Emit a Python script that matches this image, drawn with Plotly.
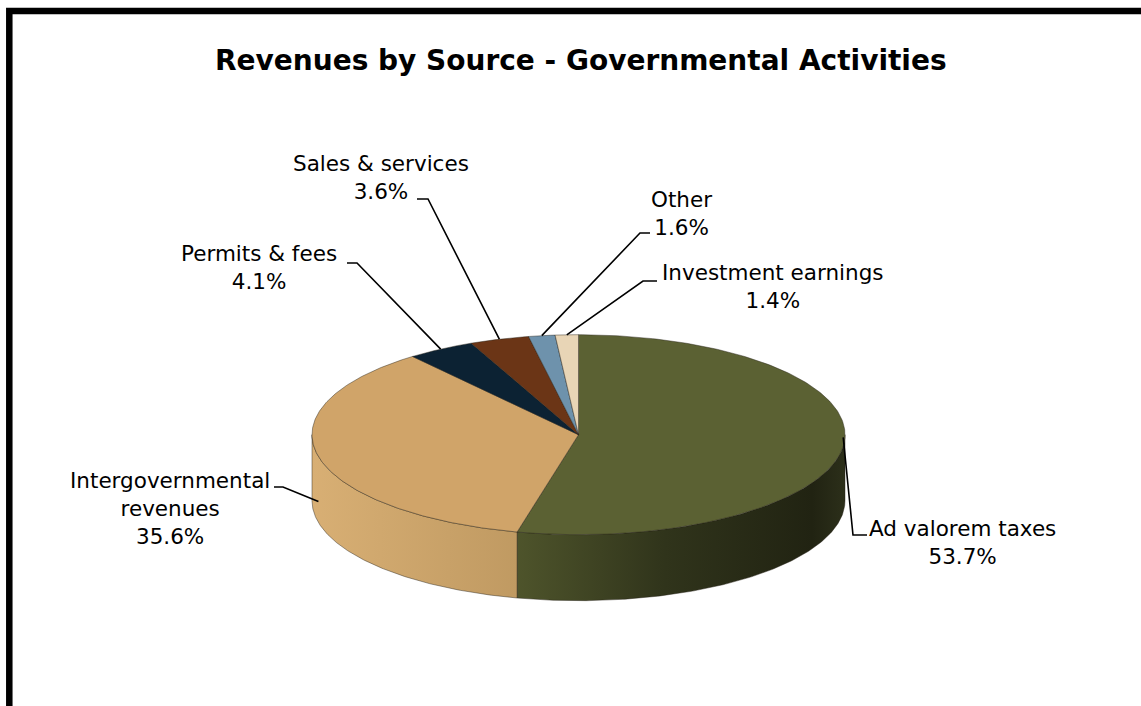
import numpy as np
import plotly.graph_objects as go

# ---- data -------------------------------------------------------------
categories = ["Ad valorem taxes", "Intergovernmental revenues", "Permits & fees",
              "Sales & services", "Other", "Investment earnings"]
label_text = ["Ad valorem taxes", "Intergovernmental<br>revenues", "Permits &amp; fees",
              "Sales &amp; services", "Other", "Investment earnings"]
shares = [53.7, 35.6, 4.1, 3.6, 1.6, 1.4]

# ---- style ------------------------------------------------------------
top_colors = ["#5b6133", "#d0a469", "#0c2233", "#6b3516", "#6e92ac", "#e8d5b6"]
side_scales = [
    [[0, "#4e542b"], [0.45, "#30341b"], [0.9, "#212312"], [1, "#2c2f1a"]],
    [[0, "#d8af74"], [1, "#c09a62"]],
    [[0, "#081a28"], [1, "#081a28"]],
    [[0, "#56290f"], [1, "#56290f"]],
    [[0, "#557a94"], [1, "#557a94"]],
    [[0, "#d6c2a2"], [1, "#d6c2a2"]],
]
FONT = "DejaVu Sans"
W, H = 1141, 706

# pie geometry in pixel space (3-D disc seen from above)
CX, CY, RX, RY, DEPTH = 578.5, 434.7, 266.5, 100.0, 66.0

# label placement: text centre, offset of the leader anchor below the rim,
# and the elbow of the leader line
label_layout = {
    "Ad valorem taxes": dict(xy=(962, 542), drop=-9, elbow=[(853, 535), (867, 535)]),
    "Intergovernmental revenues": dict(xy=(170, 508), drop=45, elbow=[(283, 487), (274, 487)]),
    "Permits & fees": dict(xy=(259, 267), drop=0, elbow=[(357, 263), (347, 263)]),
    "Sales & services": dict(xy=(381, 177), drop=0, elbow=[(428, 199), (417, 199)]),
    "Other": dict(xy=(681, 213), drop=0, elbow=[(640, 233), (650, 233)]),
    "Investment earnings": dict(xy=(773, 286), drop=0, elbow=[(643, 281), (657, 281)]),
}


def rim(theta_deg, drop=0.0):
    """Point on the top ellipse, angle measured clockwise from 12 o'clock."""
    t = np.radians(theta_deg)
    return CX + RX * np.sin(t), CY - RY * np.cos(t) + drop


total = float(sum(shares))
bounds = np.concatenate([[0.0], np.cumsum(shares)]) / total * 360.0

fig = go.Figure()

# side walls (only the front half of the disc is visible)
for i, cat in enumerate(categories):
    a, b = max(bounds[i], 90.0), min(bounds[i + 1], 270.0)
    if b <= a:
        continue
    th = np.linspace(a, b, 160)
    xs, ys = rim(th)
    xp = np.concatenate([xs, xs[::-1], xs[:1]])
    yp = np.concatenate([ys, ys[::-1] + DEPTH, ys[:1]])
    fig.add_trace(go.Scatter(
        x=xp, y=yp, mode="lines", fill="toself",
        fillgradient=dict(type="horizontal", colorscale=side_scales[i]),
        line=dict(color="rgba(35,30,20,0.55)", width=0.8),
        hoverinfo="skip", showlegend=False))

# top faces
for i, cat in enumerate(categories):
    th = np.linspace(bounds[i], bounds[i + 1], 240)
    xs, ys = rim(th)
    xp = np.concatenate([[CX], xs, [CX]])
    yp = np.concatenate([[CY], ys, [CY]])
    fig.add_trace(go.Scatter(
        x=xp, y=yp, mode="lines", fill="toself", fillcolor=top_colors[i],
        line=dict(color="rgba(35,30,20,0.55)", width=0.8),
        name=cat, hoverinfo="name", showlegend=False))

# leader lines and labels
for i, cat in enumerate(categories):
    spec = label_layout[cat]
    mid = (bounds[i] + bounds[i + 1]) / 2.0
    ax, ay = rim(mid, spec["drop"])
    pts = [(ax, ay)] + spec["elbow"]
    fig.add_trace(go.Scatter(
        x=[p[0] for p in pts], y=[p[1] for p in pts], mode="lines",
        line=dict(color="black", width=1.6), hoverinfo="skip", showlegend=False))
    fig.add_annotation(
        x=spec["xy"][0], y=spec["xy"][1], xref="x", yref="y",
        text=f"{label_text[i]}<br>{shares[i]:.1f}%", showarrow=False,
        xanchor="center", yanchor="middle", align="center",
        font=dict(family=FONT, size=21.5, color="black"))

# title
fig.add_annotation(
    x=581, y=60, xref="x", yref="y", showarrow=False,
    text="<b>Revenues by Source - Governmental Activities</b>",
    xanchor="center", yanchor="middle",
    font=dict(family=FONT, size=28, color="black"))

# frame (left and top edges of the chart box)
fig.add_shape(type="path", path="M 9.3 740 L 9.3 11 L 1170 11",
              xref="x", yref="y", line=dict(color="black", width=6.5))

fig.update_layout(
    width=W, height=H, margin=dict(l=0, r=0, t=0, b=0),
    paper_bgcolor="white", plot_bgcolor="white",
    xaxis=dict(range=[0, W], visible=False, fixedrange=True),
    yaxis=dict(range=[H, 0], visible=False, fixedrange=True),
)

fig.write_html("out.html")
